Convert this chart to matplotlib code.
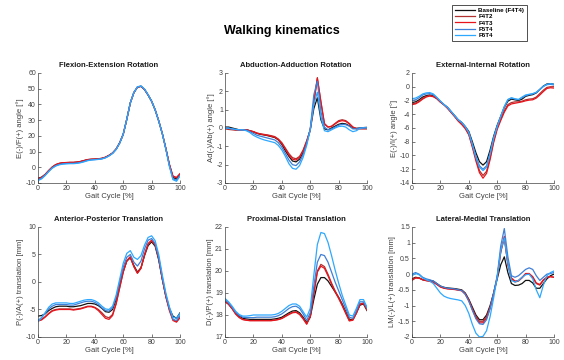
import numpy as np
import matplotlib
matplotlib.use("Agg")
import matplotlib.pyplot as plt
from matplotlib.ticker import FormatStrFormatter

plt.rcParams['font.family'] = ['Liberation Sans', 'DejaVu Sans']

gait = np.linspace(0, 100, 41)

labels = ['Baseline (F4T4)', 'F4T2', 'F4T3', 'F5T4', 'F6T4']
colors = ['#111111', '#b03030', '#e8141c', '#3f7fd6', '#2ea8ff']

# Flexion-Extension
flex_base = [-7.0, -6.3, -4.6, -2.2, 0.0, 1.5, 2.3, 2.7, 2.9, 3.0, 3.0, 3.2, 3.6, 4.2, 4.8, 5.0, 5.1, 5.3, 5.6, 6.3,
             7.5, 9.0, 11.5, 15.5, 21.0, 30.5, 41.0, 47.5, 51.0, 51.5, 49.5, 46.0, 42.0, 36.5, 29.5, 21.5, 12.0, 1.5,
             -6.5, -7.5, -4.8]
flex_f4t2 = [-7.5, -6.6, -4.7, -2.2, 0.1, 1.7, 2.5, 2.9, 3.0, 3.1, 3.1, 3.3, 3.7, 4.3, 4.9, 5.1, 5.2, 5.4, 5.7, 6.4,
             7.6, 9.1, 11.6, 15.6, 21.0, 30.5, 41.0, 47.5, 51.0, 51.5, 49.5, 46.0, 42.0, 36.5, 29.5, 21.5, 12.0, 1.8,
             -5.8, -6.8, -4.3]
flex_f4t3 = [-7.3, -6.5, -4.6, -2.1, 0.1, 1.7, 2.5, 2.9, 3.0, 3.1, 3.1, 3.3, 3.7, 4.3, 4.9, 5.1, 5.2, 5.4, 5.7, 6.4,
             7.6, 9.1, 11.6, 15.6, 21.0, 30.5, 41.0, 47.5, 51.0, 51.5, 49.5, 46.0, 42.0, 36.5, 29.5, 21.5, 12.0, 2.0,
             -5.5, -6.5, -4.0]
flex_f5t4 = [-8.0, -7.0, -5.0, -2.6, -0.4, 1.0, 1.8, 2.2, 2.4, 2.5, 2.5, 2.7, 3.1, 3.7, 4.4, 4.7, 4.9, 5.1, 5.4, 6.1,
             7.3, 8.9, 11.4, 15.4, 21.0, 30.5, 41.0, 47.5, 51.0, 51.6, 49.6, 46.0, 42.0, 36.5, 29.5, 21.5, 11.8, 1.0,
             -7.3, -8.3, -5.2]
flex_f6t4 = [-8.5, -7.4, -5.3, -2.8, -0.6, 0.8, 1.6, 2.0, 2.2, 2.3, 2.3, 2.5, 2.9, 3.5, 4.2, 4.6, 4.8, 5.0, 5.3, 6.0,
             7.2, 8.8, 11.3, 15.3, 21.0, 30.5, 41.0, 47.6, 51.2, 51.8, 49.8, 46.2, 42.1, 36.5, 29.5, 21.4, 11.6, 0.6,
             -7.9, -8.9, -5.6]

# Abduction-Adduction
abd_base = [0.05, 0.05, 0.0, -0.05, -0.1, -0.1, -0.1, -0.15, -0.22, -0.3, -0.35, -0.38, -0.42, -0.47, -0.52, -0.65,
            -0.9, -1.25, -1.55, -1.8, -1.85, -1.7, -1.35, -0.8, -0.1, 1.05, 1.65, 0.45, -0.05, -0.1, 0.0, 0.1, 0.2,
            0.25, 0.22, 0.12, 0.0, -0.02, 0.0, 0.02, 0.03]
abd_f4t2 = [-0.05, -0.08, -0.1, -0.12, -0.12, -0.1, -0.1, -0.15, -0.2, -0.28, -0.32, -0.35, -0.38, -0.42, -0.47, -0.6,
            -0.8, -1.1, -1.4, -1.62, -1.68, -1.55, -1.2, -0.7, -0.1, 1.4, 2.75, 1.4, 0.2, 0.05, 0.1, 0.25, 0.4, 0.45,
            0.4, 0.25, 0.05, -0.05, -0.05, -0.05, -0.05]
abd_f4t3 = [0.0, -0.03, -0.06, -0.1, -0.1, -0.1, -0.1, -0.15, -0.2, -0.28, -0.33, -0.37, -0.4, -0.45, -0.5, -0.63,
            -0.85, -1.15, -1.47, -1.7, -1.75, -1.6, -1.25, -0.72, -0.1, 1.35, 2.7, 1.45, 0.25, 0.05, 0.08, 0.22, 0.35,
            0.4, 0.36, 0.22, 0.05, -0.03, -0.03, -0.03, -0.03]
abd_f5t4 = [0.0, 0.0, -0.05, -0.08, -0.1, -0.1, -0.12, -0.2, -0.3, -0.4, -0.45, -0.5, -0.55, -0.6, -0.65, -0.8,
            -1.05, -1.4, -1.75, -2.0, -2.05, -1.85, -1.45, -0.85, -0.05, 1.8, 2.55, 0.9, 0.05, -0.1, -0.05, 0.05, 0.15,
            0.2, 0.18, 0.1, -0.05, -0.05, 0.0, 0.02, 0.03]
abd_f6t4 = [0.0, -0.02, -0.05, -0.08, -0.1, -0.1, -0.15, -0.25, -0.4, -0.5, -0.58, -0.65, -0.7, -0.75, -0.8, -0.95,
            -1.2, -1.55, -1.95, -2.2, -2.25, -2.05, -1.6, -0.95, -0.1, 1.3, 1.95, 0.6, -0.15, -0.2, -0.1, 0.0, 0.08,
            0.1, 0.05, -0.1, -0.2, -0.15, -0.02, 0.0, 0.0]

# External-Internal
ext_base = [-2.3, -2.2, -1.9, -1.5, -1.3, -1.2, -1.35, -1.7, -2.2, -2.6, -3.0, -3.6, -4.2, -4.8, -5.2, -5.8, -6.5, -8.0,
            -9.6, -10.9, -11.4, -10.9, -9.2, -7.2, -5.6, -4.3, -3.0, -2.1, -1.8, -1.9, -2.0, -1.8, -1.4, -1.25, -1.15,
            -0.9, -0.4, 0.1, 0.4, 0.45, 0.35]
ext_f4t2 = [-2.5, -2.4, -2.1, -1.7, -1.4, -1.3, -1.4, -1.7, -2.2, -2.6, -3.1, -3.7, -4.3, -4.9, -5.4, -6.0, -6.9, -8.6,
            -10.5, -12.2, -12.9, -12.3, -10.3, -7.9, -6.0, -4.7, -3.5, -2.6, -2.3, -2.2, -2.2, -2.1, -1.9, -1.8, -1.75,
            -1.5, -1.0, -0.5, -0.1, 0.0, 0.0]
ext_f4t3 = [-2.6, -2.5, -2.2, -1.8, -1.5, -1.35, -1.45, -1.75, -2.25, -2.65, -3.15, -3.75, -4.35, -5.0, -5.5, -6.1, -7.0,
            -8.8, -10.8, -12.5, -13.3, -12.6, -10.6, -8.1, -6.2, -4.9, -3.7, -2.8, -2.5, -2.4, -2.3, -2.2, -2.05, -1.95,
            -1.9, -1.65, -1.2, -0.7, -0.25, -0.15, -0.2]
ext_f5t4 = [-2.0, -1.9, -1.6, -1.2, -1.05, -1.0, -1.15, -1.6, -2.1, -2.6, -3.0, -3.6, -4.2, -4.8, -5.2, -5.8, -6.6, -8.3,
            -10.1, -11.5, -12.0, -11.5, -9.6, -7.4, -5.7, -4.3, -2.9, -1.9, -1.65, -1.8, -1.9, -1.6, -1.3, -1.15, -1.05,
            -0.85, -0.4, 0.05, 0.3, 0.35, 0.25]
ext_f6t4 = [-1.75, -1.65, -1.4, -1.05, -0.9, -0.85, -1.05, -1.55, -2.1, -2.6, -3.0, -3.6, -4.2, -4.8, -5.2, -5.8, -6.7,
            -8.4, -10.3, -11.7, -12.2, -11.7, -9.8, -7.5, -5.8, -4.3, -2.9, -1.85, -1.6, -1.75, -1.85, -1.5, -1.2, -1.1,
            -1.0, -0.8, -0.4, 0.05, 0.35, 0.45, 0.35]

# Anterior-Posterior
ap_base = [-6.2, -6.1, -5.8, -5.2, -4.8, -4.5, -4.4, -4.4, -4.4, -4.5, -4.5, -4.4, -4.3, -4.1, -3.9, -3.9, -4.0, -4.3,
           -4.8, -5.4, -5.5, -5.0, -3.2, -0.5, 2.0, 3.8, 4.4, 3.0, 1.8, 2.6, 4.8, 6.6, 7.3, 6.5, 4.0, 0.5, -2.5, -4.8,
           -6.2, -6.6, -5.6]
ap_f4t2 = [-7.0, -6.8, -6.3, -5.7, -5.2, -5.0, -4.9, -4.9, -4.9, -4.9, -5.0, -4.9, -4.8, -4.6, -4.4, -4.4, -4.6, -5.0,
           -5.6, -6.3, -6.5, -5.9, -3.9, -1.0, 1.8, 3.8, 4.5, 2.8, 1.6, 2.5, 4.9, 6.8, 7.5, 6.7, 4.2, 0.6, -2.6, -5.0,
           -6.8, -7.2, -6.4]
ap_f4t3 = [-7.1, -6.9, -6.4, -5.8, -5.3, -5.1, -5.0, -5.0, -5.0, -5.0, -5.1, -5.0, -4.9, -4.7, -4.5, -4.5, -4.7, -5.2,
           -5.9, -6.6, -6.8, -6.1, -4.0, -1.1, 1.8, 3.9, 4.6, 2.8, 1.6, 2.5, 5.0, 7.0, 7.6, 6.8, 4.3, 0.6, -2.7, -5.2,
           -7.0, -7.3, -6.5]
ap_f5t4 = [-7.0, -6.5, -5.7, -4.9, -4.4, -4.1, -4.1, -4.1, -4.1, -4.2, -4.2, -4.0, -3.8, -3.6, -3.5, -3.5, -3.7, -4.1,
           -4.7, -5.2, -5.3, -4.7, -2.8, 0.0, 2.7, 4.5, 5.0, 3.6, 2.9, 3.8, 6.0, 7.6, 7.9, 7.0, 4.5, 0.9, -2.3, -4.8,
           -6.8, -7.0, -6.1]
ap_f6t4 = [-7.2, -6.5, -5.6, -4.6, -4.0, -3.8, -3.8, -3.8, -3.8, -3.9, -3.9, -3.7, -3.5, -3.3, -3.2, -3.2, -3.4, -3.8,
           -4.4, -4.9, -5.0, -4.4, -2.4, 0.5, 3.4, 5.2, 5.7, 4.5, 4.1, 4.8, 6.7, 8.1, 8.4, 7.5, 5.0, 1.3, -2.0, -4.5,
           -6.4, -6.6, -5.7]

# Proximal-Distal
pd_base = [18.6, 18.5, 18.3, 18.1, 17.95, 17.85, 17.82, 17.8, 17.8, 17.8, 17.8, 17.8, 17.8, 17.8, 17.82, 17.85, 17.9,
           18.0, 18.1, 18.18, 18.2, 18.1, 17.9, 17.65, 17.9, 18.7, 19.4, 19.7, 19.7, 19.55, 19.3, 19.05, 18.8, 18.5,
           18.15, 17.8, 17.8, 18.1, 18.45, 18.5, 18.2]
pd_f4t2 = [18.65, 18.5, 18.3, 18.05, 17.9, 17.8, 17.77, 17.75, 17.75, 17.75, 17.75, 17.75, 17.75, 17.75, 17.77, 17.8,
           17.85, 17.95, 18.05, 18.12, 18.15, 18.05, 17.85, 17.6, 17.95, 19.0, 20.0, 20.3, 20.2, 19.85, 19.45, 19.1,
           18.8, 18.45, 18.1, 17.75, 17.78, 18.1, 18.5, 18.55, 18.25]
pd_f4t3 = [18.62, 18.48, 18.28, 18.04, 17.88, 17.79, 17.76, 17.74, 17.74, 17.74, 17.74, 17.74, 17.74, 17.74, 17.76,
           17.79, 17.84, 17.93, 18.02, 18.1, 18.12, 18.02, 17.82, 17.58, 17.92, 18.95, 19.95, 20.22, 20.12, 19.78,
           19.4, 19.05, 18.75, 18.42, 18.07, 17.73, 17.76, 18.08, 18.48, 18.52, 18.22]
pd_f5t4 = [18.7, 18.55, 18.35, 18.12, 17.98, 17.9, 17.88, 17.88, 17.88, 17.9, 17.9, 17.9, 17.9, 17.9, 17.92, 17.97,
           18.05, 18.17, 18.3, 18.38, 18.4, 18.3, 18.05, 17.75, 18.1, 19.3, 20.4, 20.75, 20.7, 20.4, 19.95, 19.5, 19.1,
           18.7, 18.3, 17.9, 17.85, 18.2, 18.6, 18.6, 18.3]
pd_f6t4 = [18.75, 18.6, 18.4, 18.17, 18.02, 17.95, 17.95, 17.97, 18.0, 18.0, 18.0, 18.0, 18.0, 18.0, 18.02, 18.07, 18.17,
           18.3, 18.43, 18.5, 18.5, 18.4, 18.15, 17.9, 18.3, 19.8, 21.2, 21.75, 21.7, 21.3, 20.7, 20.05, 19.45, 18.9,
           18.45, 18.0, 17.95, 18.3, 18.7, 18.7, 18.35]

# Lateral-Medial
lm_base = [-0.15, -0.1, -0.12, -0.18, -0.2, -0.2, -0.22, -0.3, -0.38, -0.42, -0.44, -0.45, -0.46, -0.48, -0.5, -0.6,
           -0.8, -1.05, -1.3, -1.45, -1.45, -1.3, -1.0, -0.6, -0.15, 0.3, 0.55, 0.05, -0.3, -0.36, -0.35, -0.3, -0.2,
           -0.2, -0.28, -0.45, -0.45, -0.3, -0.15, -0.05, 0.0]
lm_f4t2 = [-0.2, -0.12, -0.12, -0.17, -0.2, -0.22, -0.25, -0.32, -0.4, -0.44, -0.46, -0.47, -0.48, -0.5, -0.52, -0.62,
           -0.82, -1.1, -1.35, -1.5, -1.5, -1.35, -1.05, -0.6, -0.1, 0.7, 1.15, 0.3, -0.15, -0.25, -0.22, -0.12, 0.0,
           0.0, -0.1, -0.3, -0.35, -0.2, -0.1, -0.08, -0.1]
lm_f4t3 = [-0.18, -0.12, -0.13, -0.18, -0.21, -0.23, -0.26, -0.33, -0.41, -0.45, -0.47, -0.48, -0.49, -0.51, -0.53,
           -0.64, -0.85, -1.13, -1.39, -1.55, -1.55, -1.4, -1.08, -0.62, -0.1, 0.72, 1.2, 0.32, -0.12, -0.22, -0.2,
           -0.1, 0.02, 0.02, -0.08, -0.28, -0.33, -0.18, -0.1, -0.08, -0.1]
lm_f5t4 = [0.0, 0.05, 0.0, -0.1, -0.15, -0.18, -0.22, -0.3, -0.38, -0.42, -0.45, -0.46, -0.47, -0.5, -0.52, -0.64,
           -0.86, -1.15, -1.42, -1.58, -1.6, -1.45, -1.1, -0.6, -0.05, 0.9, 1.45, 0.55, -0.05, -0.1, -0.05, 0.05, 0.15,
           0.2, 0.15, -0.05, -0.2, -0.1, 0.0, 0.02, 0.05]
lm_f6t4 = [-0.05, 0.02, -0.02, -0.12, -0.18, -0.22, -0.3, -0.45, -0.6, -0.7, -0.75, -0.78, -0.8, -0.82, -0.85, -1.0,
           -1.25, -1.6, -1.88, -2.0, -1.98, -1.8, -1.35, -0.75, -0.1, 0.75, 1.15, 0.35, -0.2, -0.25, -0.2, -0.1, -0.02,
           0.0, -0.15, -0.5, -0.75, -0.35, -0.05, 0.05, 0.1]

panels = [
    ('Flexion-Extension Rotation', 'E(-)/F(+) angle [°]',
     [flex_base, flex_f4t2, flex_f4t3, flex_f5t4, flex_f6t4], (-10, 60), 10),
    ('Abduction-Adduction Rotation', 'Ad(-)/Ab(+) angle [°]',
     [abd_base, abd_f4t2, abd_f4t3, abd_f5t4, abd_f6t4], (-3, 3), 1),
    ('External-Internal Rotation', 'E(-)/I(+) angle [°]',
     [ext_base, ext_f4t2, ext_f4t3, ext_f5t4, ext_f6t4], (-14, 2), 2),
    ('Anterior-Posterior Translation', 'P(-)/A(+) translation [mm]',
     [ap_base, ap_f4t2, ap_f4t3, ap_f5t4, ap_f6t4], (-10, 10), 5),
    ('Proximal-Distal Translation', 'D(-)/P(+) translation [mm]',
     [pd_base, pd_f4t2, pd_f4t3, pd_f5t4, pd_f6t4], (17, 22), 1),
    ('Lateral-Medial Translation', 'LM(-)/L(+) translation [mm]',
     [lm_base, lm_f4t2, lm_f4t3, lm_f5t4, lm_f6t4], (-2, 1.5), 0.5),
]

fig = plt.figure(figsize=(5.64, 3.6), dpi=100)
lefts = [0.0674, 0.399, 0.7305]
bottoms = [0.4917, 0.0639]
axcol = '#404040'

lines = []
for i, (title, ylab, series, ylim, step) in enumerate(panels):
    ax = fig.add_axes([lefts[i % 3], bottoms[i // 3], 0.2518, 0.3056])
    for s, lab, c in zip(series, labels, colors):
        ln, = ax.plot(gait, s, color=c, lw=0.9, label=lab)
        if i == 0:
            lines.append(ln)
    ax.set_xlim(0, 100)
    ax.set_ylim(*ylim)
    ax.set_xticks([0, 20, 40, 60, 80, 100])
    ax.set_yticks(np.arange(ylim[0], ylim[1] + step / 2, step))
    ax.yaxis.set_major_formatter(FormatStrFormatter('%g'))
    ax.spines['top'].set_visible(False)
    ax.spines['right'].set_visible(False)
    for sp in ('left', 'bottom'):
        ax.spines[sp].set_color(axcol)
        ax.spines[sp].set_linewidth(0.5)
    ax.tick_params(direction='in', length=2, width=0.5, labelsize=5, colors=axcol, pad=1.5)
    ax.set_title(title, fontsize=5.5, fontweight='bold', pad=4, color='#1a1a1a')
    ax.set_xlabel('Gait Cycle [%]', fontsize=5.5, color=axcol, labelpad=1)
    ax.set_ylabel(ylab, fontsize=5.5, color=axcol, labelpad=1)

fig.text(0.5, 0.915, 'Walking kinematics', ha='center', va='center', fontsize=9, fontweight='bold')

leg = fig.legend(handles=lines, labels=labels, loc='upper left', bbox_to_anchor=(449 / 564, 1 - 2 / 360),
                 fontsize=4.5, frameon=True, fancybox=False, edgecolor='black', handlelength=3.2,
                 borderpad=0.4, labelspacing=0.15, handletextpad=0.6)
leg.get_frame().set_linewidth(0.6)
for t in leg.get_texts():
    t.set_fontweight('bold')

fig.savefig('out.png', dpi=100)
